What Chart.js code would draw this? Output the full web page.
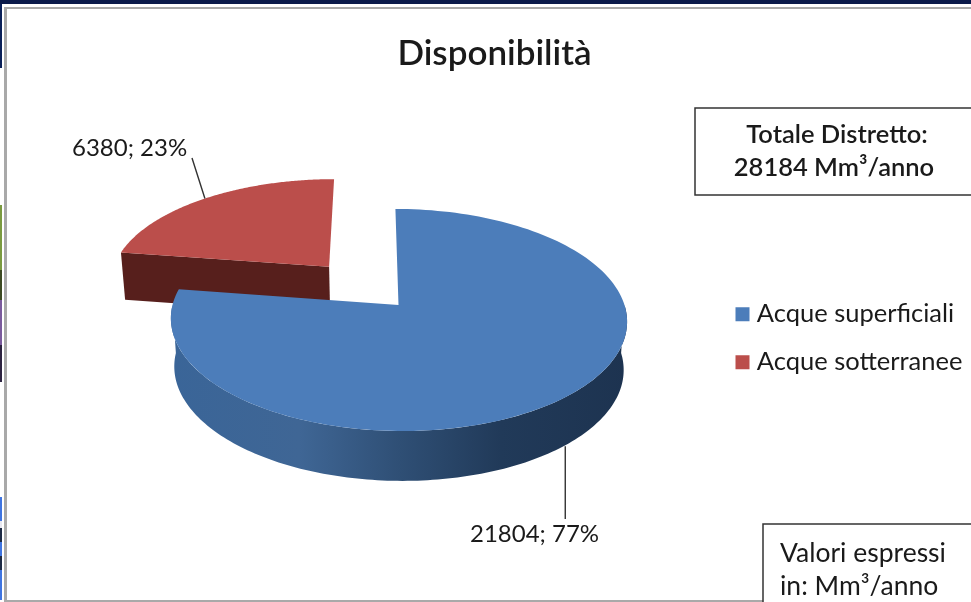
<!DOCTYPE html>
<html>
<head>
<meta charset="utf-8">
<title>Disponibilità</title>
<script src="https://cdn.jsdelivr.net/npm/chart.js@4"></script>
<style>
    html, body { margin: 0; padding: 0; background: #fff; }
    canvas { display: block; }
</style>
</head>
<body>
<canvas id="chart" width="971" height="602"></canvas>
<script>
// Chart data
const categories = ['Acque superficiali', 'Acque sotterranee'];
const values = [21804, 6380];
const percents = [77, 23];
const totalLines = ['Totale Distretto:', '28184 Mm³/anno'];
const unitLines = ['Valori espressi', 'in: Mm³/anno'];

const FONT = 'Lato, Carlito, sans-serif';
const topColors = ['#4c7dba', '#bb4e4b'];
const sideColor = '#571f1c';

// Ground plane of the pie: screen position of the centre, radii and perspective
const view = { x: 398.5, y: 305, rx: 226, ry: 109, persp: 0.135, shear: 3.5, depth: 36, depthGrow: 12, taper: 0.985 };
const explode = [0, 0.485];

// Strips of the slide showing at the left edge of the screenshot
const edgeStrips = [
    [4, 68, '#0a2058'], [205, 270, '#7a9a40'], [270, 300, '#3c4a22'], [300, 345, '#7a5a9c'],
    [345, 382, '#2c2240'], [497, 521, '#3f74e0'], [521, 528, '#e8e8f0'], [528, 542, '#1c2a44'],
    [542, 556, '#3f74e0'], [556, 570, '#1c2a44'], [570, 600, '#3f74e0']
];

// Project a point of the pie plane (u to the right, v towards the viewer) to the screen
function project(u, v, lower) {
    const s = 1 / (1 - view.persp * v);
    let x = view.x + view.rx * u * s + view.shear * v * s;
    let y = view.y + view.ry * v * s;
    if (lower) {
        x = view.x + (x - view.x) * view.taper;
        y += view.depth + view.depthGrow * s;
    }
    return { x, y };
}

// Chart.js angles start at 3 o'clock, here u/v are simply cos/sin of them
function rimPoint(arcs, angle, index, lower) {
    const arc = arcs[index];
    const mid = (arc.startAngle + arc.endAngle) / 2;
    const u = explode[index] * Math.cos(mid) + (angle === null ? 0 : Math.cos(angle));
    const v = explode[index] * Math.sin(mid) + (angle === null ? 0 : Math.sin(angle));
    return project(u, v, lower);
}

function tracePoints(ctx, points) {
    ctx.beginPath();
    points.forEach((p, i) => (i ? ctx.lineTo(p.x, p.y) : ctx.moveTo(p.x, p.y)));
    ctx.closePath();
}

function sampleAngles(start, end) {
    const steps = 160;
    const list = [];
    for (let i = 0; i <= steps; i++) {
        list.push(start + (end - start) * i / steps);
    }
    return list;
}

function drawSlice(ctx, arcs, index) {
    const arc = arcs[index];
    const angles = sampleAngles(arc.startAngle, arc.endAngle);

    if (index === 0) {
        // Outer wall, only the front half of the rim is visible
        const front = sampleAngles(0, Math.PI);
        const wall = front.map(a => rimPoint(arcs, a, 0, false))
            .concat(front.slice().reverse().map(a => rimPoint(arcs, a, 0, true)));
        const gradient = ctx.createLinearGradient(172, 0, 628, 0);
        gradient.addColorStop(0, '#3a6598');
        gradient.addColorStop(0.28, '#3f6695');
        gradient.addColorStop(0.5, '#2f4f75');
        gradient.addColorStop(0.72, '#213a59');
        gradient.addColorStop(1, '#1d3350');
        ctx.fillStyle = gradient;
        tracePoints(ctx, wall);
        ctx.fill();
    } else {
        // Cut face towards the viewer
        const wall = [rimPoint(arcs, null, index, false), rimPoint(arcs, arc.startAngle, index, false),
            rimPoint(arcs, arc.startAngle, index, true), rimPoint(arcs, null, index, true)];
        ctx.fillStyle = sideColor;
        tracePoints(ctx, wall);
        ctx.fill();
    }

    ctx.fillStyle = topColors[index];
    tracePoints(ctx, [rimPoint(arcs, null, index, false)].concat(angles.map(a => rimPoint(arcs, a, index, false))));
    ctx.fill();
}

function drawLeaders(ctx, arcs) {
    const blueMid = (arcs[0].startAngle + arcs[0].endAngle) / 2;
    const redMid = (arcs[1].startAngle + arcs[1].endAngle) / 2;
    const blue = rimPoint(arcs, blueMid, 0, true);
    const red = rimPoint(arcs, redMid, 1, false);

    ctx.strokeStyle = '#333';
    ctx.lineWidth = 1.4;
    ctx.beginPath();
    ctx.moveTo(blue.x + 2, blue.y);
    ctx.lineTo(blue.x + 2, 519);
    ctx.moveTo(red.x, red.y);
    ctx.lineTo(192, 158);
    ctx.stroke();

    ctx.fillStyle = '#1a1a1a';
    ctx.font = '24px ' + FONT;
    ctx.textBaseline = 'middle';
    ctx.textAlign = 'left';
    ctx.fillText(values[1] + '; ' + percents[1] + '%', 72, 148);
    ctx.fillText(values[0] + '; ' + percents[0] + '%', 470, 534);
}

function drawNotes(ctx) {
    ctx.fillStyle = '#fff';
    ctx.strokeStyle = '#333';
    ctx.lineWidth = 1.5;
    ctx.fillRect(695, 108, 280, 87);
    ctx.strokeRect(695, 108, 280, 87);
    ctx.fillRect(763, 524, 210, 80);
    ctx.strokeRect(763, 524, 210, 80);

    ctx.fillStyle = '#1a1a1a';
    ctx.textBaseline = 'middle';
    ctx.textAlign = 'center';
    ctx.font = '600 25.5px ' + FONT;
    ctx.fillText(totalLines[0], 837, 135);
    ctx.fillText(totalLines[1], 834, 168);
    ctx.textAlign = 'left';
    ctx.font = '26.5px ' + FONT;
    ctx.fillText(unitLines[0], 780, 553);
    ctx.fillText(unitLines[1], 780, 586);
}

function drawFrame(ctx) {
    ctx.fillStyle = '#fff';
    ctx.fillRect(0, 0, 971, 602);
    ctx.fillStyle = '#0a1a4a';
    ctx.fillRect(0, 0, 971, 4);
    edgeStrips.forEach(([from, to, color]) => {
        ctx.fillStyle = color;
        ctx.fillRect(0, from, 2, to - from);
    });
    ctx.fillStyle = '#a9a9a9';
    ctx.fillRect(4, 7, 967, 2);
    ctx.fillRect(4, 7, 3, 595);
    ctx.fillRect(4, 600, 967, 2);
}

// The library works out the slice angles, this plugin paints them in 3D
const pie3d = {
    id: 'pie3d',
    beforeDraw(chart) {
        drawFrame(chart.ctx);
    },
    afterLayout(chart) {
        // Put the legend where the original has it
        const legend = chart.legend;
        const shiftX = 718.5 - legend.left;
        const shiftY = 279 - legend.top;
        legend.left += shiftX;
        legend.right += shiftX;
        legend.top += shiftY;
        legend.bottom += shiftY;
    },
    beforeDatasetDraw(chart) {
        const ctx = chart.ctx;
        const arcs = chart.getDatasetMeta(0).data;
        ctx.save();
        drawSlice(ctx, arcs, 1);
        drawSlice(ctx, arcs, 0);
        drawLeaders(ctx, arcs);
        drawNotes(ctx);
        ctx.restore();
        return false;
    }
};

new Chart(document.getElementById('chart'), {
    type: 'pie',
    data: {
        labels: categories,
        datasets: [{ data: values, backgroundColor: topColors, borderWidth: 0 }]
    },
    options: {
        responsive: false,
        animation: false,
        devicePixelRatio: 1,
        layout: { padding: { left: 18 } },
        plugins: {
            title: {
                display: true,
                text: 'Disponibilità',
                color: '#1a1a1a',
                font: { family: FONT, size: 35, weight: '600' },
                padding: { top: 33, bottom: 20 }
            },
            legend: {
                position: 'right',
                align: 'start',
                labels: {
                    color: '#1a1a1a',
                    font: { family: FONT, size: 25.5 },
                    usePointStyle: true,
                    pointStyle: 'rect',
                    boxWidth: 3,
                    boxHeight: 14,
                    padding: 22.5
                }
            },
            tooltip: { enabled: false }
        }
    },
    plugins: [pie3d]
});
</script>
</body>
</html>
